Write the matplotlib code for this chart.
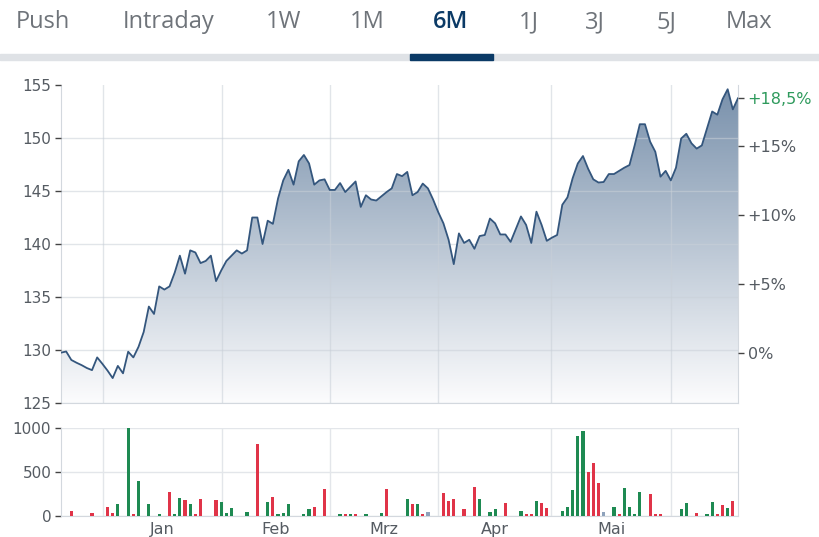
import numpy as np
import matplotlib
matplotlib.use('Agg')
from matplotlib import pyplot as plt
from matplotlib.colors import LinearSegmentedColormap
from matplotlib.patches import Polygon, Rectangle

# closing prices, one per weekday slot
price = [129.75, 129.86, 129.06, 128.8, 128.57, 128.3, 128.1, 129.3, 128.7, 128.06,
         127.35, 128.5, 127.8, 129.84, 129.3, 130.3, 131.7, 134.1, 133.4, 136.0,
         135.7, 136.0, 137.3, 138.9, 137.2, 139.4, 139.2, 138.2, 138.4, 138.9,
         136.5, 137.5, 138.4, 138.9, 139.4, 139.1, 139.4, 142.5, 142.5, 140.0,
         142.2, 141.9, 144.3, 146.0, 147.0, 145.6, 147.8, 148.4, 147.6, 145.6,
         146.0, 146.1, 145.1, 145.1, 145.75, 144.9, 145.4, 145.9, 143.5, 144.6,
         144.2, 144.1, 144.5, 144.9, 145.25, 146.6, 146.4, 146.8, 144.6, 144.9,
         145.7, 145.25, 144.2, 143.0, 141.95, 140.4, 138.1, 141.0, 140.1, 140.4,
         139.55, 140.75, 140.85, 142.4, 141.95, 140.9, 140.9, 140.2, 141.4, 142.6,
         141.8, 140.1, 143.05, 141.8, 140.3, 140.6, 140.85, 143.7, 144.4, 146.2,
         147.6, 148.3, 147.1, 146.1, 145.8, 145.85, 146.6, 146.6, 146.9, 147.2,
         147.45, 149.3, 151.3, 151.3, 149.65, 148.7, 146.35, 146.9, 146.0, 147.2,
         149.95, 150.4, 149.5, 149.0, 149.3, 150.9, 152.5, 152.2, 153.65, 154.6,
         152.7, 153.75]
base_price = 129.75
pct_ticks = [0, 5, 10, 15]

# volume bars: slot, volume, direction (u=up, d=down, n=unchanged)
vol_slot = [2, 6, 9, 10, 11, 13, 14, 15, 17, 19,
            21, 22, 23, 24, 25, 26, 27, 30, 31, 32,
            33, 36, 38, 40, 41, 42, 43, 44, 47, 48,
            49, 51, 54, 55, 56, 57, 59, 62, 63, 67,
            68, 69, 70, 71, 74, 75, 76, 78, 80, 81,
            83, 84, 86, 89, 90, 91, 92, 93, 94, 97,
            98, 99, 100, 101, 102, 103, 104, 105, 107, 108,
            109, 110, 111, 112, 114, 115, 116, 120, 121, 123,
            125, 126, 127, 128, 129, 130]
vol_value = [60, 30, 106, 30, 132, 1000, 19, 396, 132, 19,
             275, 19, 208, 177, 132, 19, 189, 177, 162, 30,
             87, 49, 815, 162, 219, 19, 30, 132, 19, 75,
             106, 306, 19, 19, 19, 19, 19, 30, 306, 189,
             132, 132, 19, 42, 264, 174, 189, 75, 325, 189,
             42, 75, 151, 60, 19, 19, 174, 143, 87, 60,
             106, 294, 906, 966, 498, 596, 370, 42, 106, 19,
             313, 106, 19, 275, 249, 19, 19, 75, 143, 30,
             19, 162, 19, 121, 87, 174]
vol_dir = ('dddduuduuu'
           'duududdduu'
           'uududuuuuu'
           'ddududuudu'
           'dudndddddu'
           'uududduddu'
           'uuuudddnud'
           'uuuuddduud'
           'uuddud')

months = ['Jan', 'Feb', 'Mrz', 'Apr', 'Mai']
month_start = [8.2, 31.1, 52.0, 73.0, 94.9, 118.0]

tabs = ['Push', 'Intraday', '1W', '1M', '6M', '1J', '3J', '5J', 'Max']
active_tab = '6M'

W, H = 819, 537
fig = plt.figure(figsize=(W / 100, H / 100), dpi=100)

# --- tab bar ---
tab_x = [43, 169, 284, 367, 451, 529, 595, 666, 749]
for t, x in zip(tabs, tab_x):
    on = t == active_tab
    fig.text(x / W, 1 - 28.5 / H, t, ha='center', va='baseline', fontsize=17,
             family='Open Sans', fontweight='semibold' if on else 'normal',
             color='#0b3a66' if on else '#6f747a')
fig.patches.append(Rectangle((0, 1 - 60 / H), 1, 6 / H, transform=fig.transFigure,
                             color='#dfe2e6', zorder=0))
fig.patches.append(Rectangle((410 / W, 1 - 60 / H), 83 / W, 6 / H, transform=fig.transFigure,
                             color='#0b3a66', zorder=1))

n = len(price)
xs = np.arange(n)
xmax = n - 1
grid_c = '#e3e6ea'
spine_c = '#d3d8de'
label_c = '#555b62'
fs = 11

# --- price panel ---
ax = fig.add_axes([61 / W, 1 - 403 / H, 677 / W, 318 / H])
ax.set_xlim(0, xmax)
ax.set_ylim(125, 155)

cmap = LinearSegmentedColormap.from_list('fill', ['#fcfcfd', '#7890ab'])
grad = np.linspace(0, 1, 256).reshape(-1, 1)
im = ax.imshow(grad, extent=[0, xmax, 125, 155], origin='lower', aspect='auto',
               cmap=cmap, zorder=1)
poly = Polygon([(0, 125)] + list(zip(xs, price)) + [(xmax, 125)], closed=True,
               facecolor='none', edgecolor='none', transform=ax.transData)
ax.add_patch(poly)
im.set_clip_path(poly)
ax.plot(xs, price, color='#34567d', lw=1.3, zorder=4)

ax.set_yticks(np.arange(125, 156, 5))
ax.set_xticks(month_start)
ax.set_xticklabels([])
ax.grid(True, color='#c9d0d8', alpha=0.55, lw=1)
ax.set_axisbelow(False)
ax.yaxis.get_gridlines()[-1].set_visible(False)
ax.tick_params(axis='x', length=0)
ax.tick_params(axis='y', direction='out', length=4, width=1, color='#444444',
               labelcolor=label_c, labelsize=fs, pad=3)
ax.spines['top'].set_visible(False)
for s in ['left', 'right', 'bottom']:
    ax.spines[s].set_color(spine_c)

ax2 = ax.twinx()
ax2.set_ylim(125, 155)
pct_pos = [base_price * (1 + p / 100) for p in pct_ticks] + [price[-1]]
last_pct = (price[-1] / base_price - 1) * 100
pct_labels = [('+%d%%' % p) if p > 0 else '0%' for p in pct_ticks]
pct_labels.append(('+%.1f%%' % last_pct).replace('.', ','))
ax2.set_yticks(pct_pos)
ax2.set_yticklabels(pct_labels)
ax2.tick_params(axis='y', direction='out', length=4, width=1, color='#444444',
                labelcolor=label_c, labelsize=fs + 0.5, pad=3)
ax2.get_yticklabels()[-1].set_color('#2e9a5c')
for s in ax2.spines.values():
    s.set_visible(False)

# --- volume panel ---
axv = fig.add_axes([61 / W, 1 - 516 / H, 677 / W, 88.3 / H])
axv.set_xlim(0, xmax)
axv.set_ylim(0, 1000)
col = {'u': '#1e8a52', 'd': '#e03448', 'n': '#8ea2bb'}
axv.bar(vol_slot, vol_value, width=0.62, color=[col[d] for d in vol_dir], zorder=3)
axv.set_yticks([0, 500, 1000])
axv.set_xticks(month_start)
axv.set_xticklabels([])
mids = [(a + b) / 2 for a, b in zip(month_start[:-1], month_start[1:])]
axv.set_xticks(mids, minor=True)
axv.set_xticklabels(months, minor=True)
axv.grid(True, which='major', color=grid_c, lw=1, zorder=0)
axv.tick_params(axis='x', which='both', length=0, labelcolor=label_c, labelsize=fs + 0.5, pad=4)
axv.tick_params(axis='y', direction='out', length=4, width=1, color='#444444',
                labelcolor=label_c, labelsize=fs, pad=3)
axv.spines['top'].set_visible(False)
for s in ['left', 'right', 'bottom']:
    axv.spines[s].set_color(spine_c)

fig.savefig('out.png', dpi=100)
